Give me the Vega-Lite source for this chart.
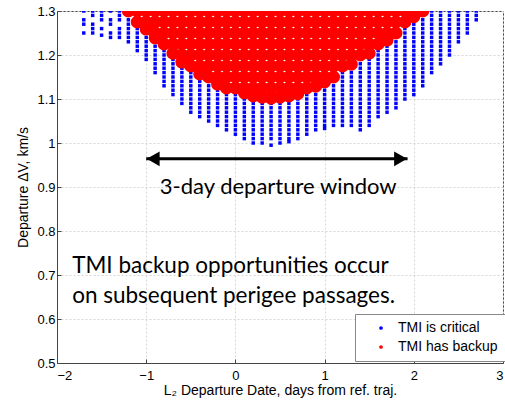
{
"$schema": "https://vega.github.io/schema/vega-lite/v6.json",
"autosize": {"type": "none"},
"padding": {"left": 57, "top": 11, "right": 2, "bottom": 39},
"width": 446,
"height": 352,
"background": "white",
"config": {
  "view": {"stroke": "#444", "strokeWidth": 1},
  "font": "Liberation Sans",
  "axis": {"labelFont": "Liberation Sans", "titleFont": "Liberation Sans", "labelColor": "#000", "titleColor": "#000", "labelFontSize": 13, "titleFontSize": 14, "titleFontWeight": "normal", "domainColor": "#444", "tickColor": "#444", "tickSize": -4, "gridColor": "#d6d6d6", "gridDash": [2, 2], "gridWidth": 1}
},
"datasets": {
"blue": [
{"x":-1.7,"y":1.30},{"x":-1.7,"y":1.28},{"x":-1.7,"y":1.27},{"x":-1.7,"y":1.25},
{"x":-1.6,"y":1.30},{"x":-1.6,"y":1.29},{"x":-1.6,"y":1.27},{"x":-1.6,"y":1.26},{"x":-1.6,"y":1.25},
{"x":-1.5,"y":1.30},{"x":-1.5,"y":1.29},{"x":-1.5,"y":1.28},{"x":-1.5,"y":1.26},{"x":-1.5,"y":1.245},
{"x":-1.4,"y":1.30},{"x":-1.4,"y":1.28},{"x":-1.4,"y":1.27},{"x":-1.4,"y":1.25},{"x":-1.4,"y":1.24},
{"x":-1.3,"y":1.30},{"x":-1.3,"y":1.29},{"x":-1.3,"y":1.28},{"x":-1.3,"y":1.26},{"x":-1.3,"y":1.25},{"x":-1.3,"y":1.24},
{"x":-1.2,"y":1.28},{"x":-1.2,"y":1.27},{"x":-1.2,"y":1.26},{"x":-1.2,"y":1.25},{"x":-1.2,"y":1.24},{"x":-1.2,"y":1.23},
{"x":-1.1,"y":1.26},{"x":-1.1,"y":1.25},{"x":-1.1,"y":1.24},{"x":-1.1,"y":1.23},{"x":-1.1,"y":1.22},{"x":-1.1,"y":1.21},
{"x":-1.0,"y":1.24},{"x":-1.0,"y":1.23},{"x":-1.0,"y":1.22},{"x":-1.0,"y":1.21},{"x":-1.0,"y":1.20},{"x":-1.0,"y":1.19},
{"x":-0.9,"y":1.22},{"x":-0.9,"y":1.21},{"x":-0.9,"y":1.20},{"x":-0.9,"y":1.19},{"x":-0.9,"y":1.18},{"x":-0.9,"y":1.17},{"x":-0.9,"y":1.16},
{"x":-0.8,"y":1.21},{"x":-0.8,"y":1.20},{"x":-0.8,"y":1.19},{"x":-0.8,"y":1.18},{"x":-0.8,"y":1.17},{"x":-0.8,"y":1.16},{"x":-0.8,"y":1.15},{"x":-0.8,"y":1.14},{"x":-0.8,"y":1.13},
{"x":-0.7,"y":1.19},{"x":-0.7,"y":1.18},{"x":-0.7,"y":1.17},{"x":-0.7,"y":1.16},{"x":-0.7,"y":1.15},{"x":-0.7,"y":1.14},{"x":-0.7,"y":1.13},{"x":-0.7,"y":1.12},{"x":-0.7,"y":1.11},
{"x":-0.6,"y":1.17},{"x":-0.6,"y":1.16},{"x":-0.6,"y":1.15},{"x":-0.6,"y":1.14},{"x":-0.6,"y":1.13},{"x":-0.6,"y":1.12},{"x":-0.6,"y":1.11},{"x":-0.6,"y":1.10},{"x":-0.6,"y":1.09},
{"x":-0.5,"y":1.16},{"x":-0.5,"y":1.15},{"x":-0.5,"y":1.14},{"x":-0.5,"y":1.13},{"x":-0.5,"y":1.12},{"x":-0.5,"y":1.11},{"x":-0.5,"y":1.10},{"x":-0.5,"y":1.09},{"x":-0.5,"y":1.08},{"x":-0.5,"y":1.07},
{"x":-0.4,"y":1.14},{"x":-0.4,"y":1.13},{"x":-0.4,"y":1.12},{"x":-0.4,"y":1.11},{"x":-0.4,"y":1.10},{"x":-0.4,"y":1.09},{"x":-0.4,"y":1.08},{"x":-0.4,"y":1.07},{"x":-0.4,"y":1.06},
{"x":-0.3,"y":1.13},{"x":-0.3,"y":1.12},{"x":-0.3,"y":1.11},{"x":-0.3,"y":1.10},{"x":-0.3,"y":1.09},{"x":-0.3,"y":1.08},{"x":-0.3,"y":1.07},{"x":-0.3,"y":1.06},{"x":-0.3,"y":1.05},
{"x":-0.2,"y":1.12},{"x":-0.2,"y":1.11},{"x":-0.2,"y":1.10},{"x":-0.2,"y":1.09},{"x":-0.2,"y":1.08},{"x":-0.2,"y":1.07},{"x":-0.2,"y":1.06},{"x":-0.2,"y":1.05},{"x":-0.2,"y":1.04},
{"x":-0.1,"y":1.11},{"x":-0.1,"y":1.10},{"x":-0.1,"y":1.09},{"x":-0.1,"y":1.08},{"x":-0.1,"y":1.07},{"x":-0.1,"y":1.06},{"x":-0.1,"y":1.05},{"x":-0.1,"y":1.04},{"x":-0.1,"y":1.03},
{"x":0.0,"y":1.11},{"x":0.0,"y":1.10},{"x":0.0,"y":1.09},{"x":0.0,"y":1.08},{"x":0.0,"y":1.07},{"x":0.0,"y":1.06},{"x":0.0,"y":1.05},{"x":0.0,"y":1.04},{"x":0.0,"y":1.03},{"x":0.0,"y":1.02},
{"x":0.1,"y":1.10},{"x":0.1,"y":1.09},{"x":0.1,"y":1.08},{"x":0.1,"y":1.07},{"x":0.1,"y":1.06},{"x":0.1,"y":1.05},{"x":0.1,"y":1.04},{"x":0.1,"y":1.03},{"x":0.1,"y":1.02},{"x":0.1,"y":1.01},
{"x":0.2,"y":1.09},{"x":0.2,"y":1.08},{"x":0.2,"y":1.07},{"x":0.2,"y":1.06},{"x":0.2,"y":1.05},{"x":0.2,"y":1.04},{"x":0.2,"y":1.03},{"x":0.2,"y":1.02},{"x":0.2,"y":1.01},{"x":0.2,"y":1.00},
{"x":0.3,"y":1.09},{"x":0.3,"y":1.08},{"x":0.3,"y":1.07},{"x":0.3,"y":1.06},{"x":0.3,"y":1.05},{"x":0.3,"y":1.04},{"x":0.3,"y":1.03},{"x":0.3,"y":1.02},{"x":0.3,"y":1.01},{"x":0.3,"y":1.00},
{"x":0.4,"y":1.09},{"x":0.4,"y":1.08},{"x":0.4,"y":1.07},{"x":0.4,"y":1.06},{"x":0.4,"y":1.05},{"x":0.4,"y":1.04},{"x":0.4,"y":1.03},{"x":0.4,"y":1.02},{"x":0.4,"y":1.01},{"x":0.4,"y":0.995},
{"x":0.5,"y":1.09},{"x":0.5,"y":1.08},{"x":0.5,"y":1.07},{"x":0.5,"y":1.06},{"x":0.5,"y":1.05},{"x":0.5,"y":1.04},{"x":0.5,"y":1.03},{"x":0.5,"y":1.02},{"x":0.5,"y":1.01},{"x":0.5,"y":1.00},
{"x":0.6,"y":1.09},{"x":0.6,"y":1.08},{"x":0.6,"y":1.07},{"x":0.6,"y":1.06},{"x":0.6,"y":1.05},{"x":0.6,"y":1.04},{"x":0.6,"y":1.03},{"x":0.6,"y":1.02},{"x":0.6,"y":1.01},{"x":0.6,"y":1.003},
{"x":0.7,"y":1.10},{"x":0.7,"y":1.09},{"x":0.7,"y":1.08},{"x":0.7,"y":1.07},{"x":0.7,"y":1.06},{"x":0.7,"y":1.05},{"x":0.7,"y":1.04},{"x":0.7,"y":1.03},{"x":0.7,"y":1.02},{"x":0.7,"y":1.01},
{"x":0.8,"y":1.11},{"x":0.8,"y":1.10},{"x":0.8,"y":1.09},{"x":0.8,"y":1.08},{"x":0.8,"y":1.07},{"x":0.8,"y":1.06},{"x":0.8,"y":1.05},{"x":0.8,"y":1.04},{"x":0.8,"y":1.03},{"x":0.8,"y":1.02},
{"x":0.9,"y":1.11},{"x":0.9,"y":1.10},{"x":0.9,"y":1.09},{"x":0.9,"y":1.08},{"x":0.9,"y":1.07},{"x":0.9,"y":1.06},{"x":0.9,"y":1.05},{"x":0.9,"y":1.04},{"x":0.9,"y":1.03},
{"x":1.0,"y":1.12},{"x":1.0,"y":1.11},{"x":1.0,"y":1.10},{"x":1.0,"y":1.09},{"x":1.0,"y":1.08},{"x":1.0,"y":1.07},{"x":1.0,"y":1.06},{"x":1.0,"y":1.05},{"x":1.0,"y":1.04},{"x":1.0,"y":1.033},
{"x":1.1,"y":1.13},{"x":1.1,"y":1.12},{"x":1.1,"y":1.11},{"x":1.1,"y":1.10},{"x":1.1,"y":1.09},{"x":1.1,"y":1.08},{"x":1.1,"y":1.07},{"x":1.1,"y":1.06},{"x":1.1,"y":1.05},{"x":1.1,"y":1.04},
{"x":1.2,"y":1.16},{"x":1.2,"y":1.15},{"x":1.2,"y":1.14},{"x":1.2,"y":1.13},{"x":1.2,"y":1.12},{"x":1.2,"y":1.11},{"x":1.2,"y":1.10},{"x":1.2,"y":1.09},{"x":1.2,"y":1.08},{"x":1.2,"y":1.07},{"x":1.2,"y":1.06},{"x":1.2,"y":1.05},{"x":1.2,"y":1.04},
{"x":1.3,"y":1.16},{"x":1.3,"y":1.15},{"x":1.3,"y":1.14},{"x":1.3,"y":1.13},{"x":1.3,"y":1.12},{"x":1.3,"y":1.11},{"x":1.3,"y":1.10},{"x":1.3,"y":1.09},{"x":1.3,"y":1.08},{"x":1.3,"y":1.07},{"x":1.3,"y":1.06},{"x":1.3,"y":1.05},{"x":1.3,"y":1.04},
{"x":1.4,"y":1.18},{"x":1.4,"y":1.17},{"x":1.4,"y":1.16},{"x":1.4,"y":1.15},{"x":1.4,"y":1.14},{"x":1.4,"y":1.13},{"x":1.4,"y":1.12},{"x":1.4,"y":1.11},{"x":1.4,"y":1.10},{"x":1.4,"y":1.09},{"x":1.4,"y":1.08},{"x":1.4,"y":1.07},{"x":1.4,"y":1.06},{"x":1.4,"y":1.05},{"x":1.4,"y":1.04},{"x":1.4,"y":1.03},
{"x":1.5,"y":1.19},{"x":1.5,"y":1.18},{"x":1.5,"y":1.17},{"x":1.5,"y":1.16},{"x":1.5,"y":1.15},{"x":1.5,"y":1.14},{"x":1.5,"y":1.13},{"x":1.5,"y":1.12},{"x":1.5,"y":1.11},{"x":1.5,"y":1.10},{"x":1.5,"y":1.09},{"x":1.5,"y":1.08},{"x":1.5,"y":1.07},{"x":1.5,"y":1.06},{"x":1.5,"y":1.05},{"x":1.5,"y":1.04},
{"x":1.6,"y":1.21},{"x":1.6,"y":1.20},{"x":1.6,"y":1.19},{"x":1.6,"y":1.18},{"x":1.6,"y":1.17},{"x":1.6,"y":1.16},{"x":1.6,"y":1.15},{"x":1.6,"y":1.14},{"x":1.6,"y":1.13},{"x":1.6,"y":1.12},{"x":1.6,"y":1.11},{"x":1.6,"y":1.10},{"x":1.6,"y":1.09},{"x":1.6,"y":1.08},{"x":1.6,"y":1.07},{"x":1.6,"y":1.06},
{"x":1.7,"y":1.22},{"x":1.7,"y":1.21},{"x":1.7,"y":1.20},{"x":1.7,"y":1.19},{"x":1.7,"y":1.18},{"x":1.7,"y":1.17},{"x":1.7,"y":1.16},{"x":1.7,"y":1.15},{"x":1.7,"y":1.14},{"x":1.7,"y":1.13},{"x":1.7,"y":1.12},{"x":1.7,"y":1.11},{"x":1.7,"y":1.10},{"x":1.7,"y":1.09},{"x":1.7,"y":1.08},{"x":1.7,"y":1.07},
{"x":1.8,"y":1.23},{"x":1.8,"y":1.22},{"x":1.8,"y":1.21},{"x":1.8,"y":1.20},{"x":1.8,"y":1.19},{"x":1.8,"y":1.18},{"x":1.8,"y":1.17},{"x":1.8,"y":1.16},{"x":1.8,"y":1.15},{"x":1.8,"y":1.14},{"x":1.8,"y":1.13},{"x":1.8,"y":1.12},{"x":1.8,"y":1.11},{"x":1.8,"y":1.10},{"x":1.8,"y":1.09},{"x":1.8,"y":1.08},
{"x":1.9,"y":1.26},{"x":1.9,"y":1.25},{"x":1.9,"y":1.24},{"x":1.9,"y":1.23},{"x":1.9,"y":1.22},{"x":1.9,"y":1.21},{"x":1.9,"y":1.20},{"x":1.9,"y":1.19},{"x":1.9,"y":1.18},{"x":1.9,"y":1.17},{"x":1.9,"y":1.16},{"x":1.9,"y":1.15},{"x":1.9,"y":1.14},{"x":1.9,"y":1.13},{"x":1.9,"y":1.12},{"x":1.9,"y":1.11},{"x":1.9,"y":1.10},
{"x":2.0,"y":1.27},{"x":2.0,"y":1.26},{"x":2.0,"y":1.25},{"x":2.0,"y":1.24},{"x":2.0,"y":1.23},{"x":2.0,"y":1.22},{"x":2.0,"y":1.21},{"x":2.0,"y":1.20},{"x":2.0,"y":1.19},{"x":2.0,"y":1.18},{"x":2.0,"y":1.17},{"x":2.0,"y":1.16},{"x":2.0,"y":1.15},{"x":2.0,"y":1.14},{"x":2.0,"y":1.13},{"x":2.0,"y":1.12},{"x":2.0,"y":1.11},
{"x":2.1,"y":1.28},{"x":2.1,"y":1.27},{"x":2.1,"y":1.26},{"x":2.1,"y":1.25},{"x":2.1,"y":1.24},{"x":2.1,"y":1.23},{"x":2.1,"y":1.22},{"x":2.1,"y":1.21},{"x":2.1,"y":1.20},{"x":2.1,"y":1.19},{"x":2.1,"y":1.18},{"x":2.1,"y":1.17},{"x":2.1,"y":1.16},{"x":2.1,"y":1.15},{"x":2.1,"y":1.14},{"x":2.1,"y":1.13},
{"x":2.2,"y":1.30},{"x":2.2,"y":1.29},{"x":2.2,"y":1.28},{"x":2.2,"y":1.27},{"x":2.2,"y":1.26},{"x":2.2,"y":1.25},{"x":2.2,"y":1.24},{"x":2.2,"y":1.23},{"x":2.2,"y":1.22},{"x":2.2,"y":1.21},{"x":2.2,"y":1.20},{"x":2.2,"y":1.19},{"x":2.2,"y":1.18},{"x":2.2,"y":1.17},{"x":2.2,"y":1.16},
{"x":2.3,"y":1.30},{"x":2.3,"y":1.29},{"x":2.3,"y":1.28},{"x":2.3,"y":1.27},{"x":2.3,"y":1.26},{"x":2.3,"y":1.25},{"x":2.3,"y":1.24},{"x":2.3,"y":1.23},{"x":2.3,"y":1.22},{"x":2.3,"y":1.21},{"x":2.3,"y":1.20},{"x":2.3,"y":1.19},{"x":2.3,"y":1.18},
{"x":2.4,"y":1.30},{"x":2.4,"y":1.29},{"x":2.4,"y":1.28},{"x":2.4,"y":1.27},{"x":2.4,"y":1.26},{"x":2.4,"y":1.25},{"x":2.4,"y":1.24},{"x":2.4,"y":1.23},{"x":2.4,"y":1.22},{"x":2.4,"y":1.21},{"x":2.4,"y":1.20},
{"x":2.5,"y":1.30},{"x":2.5,"y":1.29},{"x":2.5,"y":1.28},{"x":2.5,"y":1.27},{"x":2.5,"y":1.26},{"x":2.5,"y":1.25},{"x":2.5,"y":1.24},{"x":2.5,"y":1.23},
{"x":2.6,"y":1.30},{"x":2.6,"y":1.29},{"x":2.6,"y":1.28},{"x":2.6,"y":1.27},{"x":2.6,"y":1.26},{"x":2.6,"y":1.25},
{"x":2.7,"y":1.30},{"x":2.7,"y":1.29},{"x":2.7,"y":1.28}
],
"red": [
{"x":-1.2,"y":1.30},
{"x":-1.1,"y":1.30},{"x":-1.1,"y":1.275},
{"x":-1.0,"y":1.30},{"x":-1.0,"y":1.275},{"x":-1.0,"y":1.259},
{"x":-0.9,"y":1.30},{"x":-0.9,"y":1.275},{"x":-0.9,"y":1.25},{"x":-0.9,"y":1.239},
{"x":-0.8,"y":1.30},{"x":-0.8,"y":1.275},{"x":-0.8,"y":1.25},{"x":-0.8,"y":1.225},
{"x":-0.7,"y":1.30},{"x":-0.7,"y":1.275},{"x":-0.7,"y":1.25},{"x":-0.7,"y":1.225},{"x":-0.7,"y":1.204},
{"x":-0.6,"y":1.30},{"x":-0.6,"y":1.275},{"x":-0.6,"y":1.25},{"x":-0.6,"y":1.225},{"x":-0.6,"y":1.20},{"x":-0.6,"y":1.184},
{"x":-0.5,"y":1.30},{"x":-0.5,"y":1.275},{"x":-0.5,"y":1.25},{"x":-0.5,"y":1.225},{"x":-0.5,"y":1.20},{"x":-0.5,"y":1.175},
{"x":-0.4,"y":1.30},{"x":-0.4,"y":1.275},{"x":-0.4,"y":1.25},{"x":-0.4,"y":1.225},{"x":-0.4,"y":1.20},{"x":-0.4,"y":1.175},{"x":-0.4,"y":1.157},
{"x":-0.3,"y":1.30},{"x":-0.3,"y":1.275},{"x":-0.3,"y":1.25},{"x":-0.3,"y":1.225},{"x":-0.3,"y":1.20},{"x":-0.3,"y":1.175},{"x":-0.3,"y":1.15},
{"x":-0.2,"y":1.30},{"x":-0.2,"y":1.275},{"x":-0.2,"y":1.25},{"x":-0.2,"y":1.225},{"x":-0.2,"y":1.20},{"x":-0.2,"y":1.175},{"x":-0.2,"y":1.15},{"x":-0.2,"y":1.134},
{"x":-0.1,"y":1.30},{"x":-0.1,"y":1.275},{"x":-0.1,"y":1.25},{"x":-0.1,"y":1.225},{"x":-0.1,"y":1.20},{"x":-0.1,"y":1.175},{"x":-0.1,"y":1.15},{"x":-0.1,"y":1.125},
{"x":0.0,"y":1.30},{"x":0.0,"y":1.275},{"x":0.0,"y":1.25},{"x":0.0,"y":1.225},{"x":0.0,"y":1.20},{"x":0.0,"y":1.175},{"x":0.0,"y":1.15},{"x":0.0,"y":1.125},
{"x":0.1,"y":1.30},{"x":0.1,"y":1.275},{"x":0.1,"y":1.25},{"x":0.1,"y":1.225},{"x":0.1,"y":1.20},{"x":0.1,"y":1.175},{"x":0.1,"y":1.15},{"x":0.1,"y":1.125},{"x":0.1,"y":1.114},
{"x":0.2,"y":1.30},{"x":0.2,"y":1.275},{"x":0.2,"y":1.25},{"x":0.2,"y":1.225},{"x":0.2,"y":1.20},{"x":0.2,"y":1.175},{"x":0.2,"y":1.15},{"x":0.2,"y":1.125},{"x":0.2,"y":1.107},
{"x":0.3,"y":1.30},{"x":0.3,"y":1.275},{"x":0.3,"y":1.25},{"x":0.3,"y":1.225},{"x":0.3,"y":1.20},{"x":0.3,"y":1.175},{"x":0.3,"y":1.15},{"x":0.3,"y":1.125},{"x":0.3,"y":1.104},
{"x":0.4,"y":1.30},{"x":0.4,"y":1.275},{"x":0.4,"y":1.25},{"x":0.4,"y":1.225},{"x":0.4,"y":1.20},{"x":0.4,"y":1.175},{"x":0.4,"y":1.15},{"x":0.4,"y":1.125},{"x":0.4,"y":1.102},
{"x":0.5,"y":1.30},{"x":0.5,"y":1.275},{"x":0.5,"y":1.25},{"x":0.5,"y":1.225},{"x":0.5,"y":1.20},{"x":0.5,"y":1.175},{"x":0.5,"y":1.15},{"x":0.5,"y":1.125},{"x":0.5,"y":1.104},
{"x":0.6,"y":1.30},{"x":0.6,"y":1.275},{"x":0.6,"y":1.25},{"x":0.6,"y":1.225},{"x":0.6,"y":1.20},{"x":0.6,"y":1.175},{"x":0.6,"y":1.15},{"x":0.6,"y":1.125},{"x":0.6,"y":1.107},
{"x":0.7,"y":1.30},{"x":0.7,"y":1.275},{"x":0.7,"y":1.25},{"x":0.7,"y":1.225},{"x":0.7,"y":1.20},{"x":0.7,"y":1.175},{"x":0.7,"y":1.15},{"x":0.7,"y":1.125},{"x":0.7,"y":1.112},
{"x":0.8,"y":1.30},{"x":0.8,"y":1.275},{"x":0.8,"y":1.25},{"x":0.8,"y":1.225},{"x":0.8,"y":1.20},{"x":0.8,"y":1.175},{"x":0.8,"y":1.15},{"x":0.8,"y":1.125},
{"x":0.9,"y":1.30},{"x":0.9,"y":1.275},{"x":0.9,"y":1.25},{"x":0.9,"y":1.225},{"x":0.9,"y":1.20},{"x":0.9,"y":1.175},{"x":0.9,"y":1.15},{"x":0.9,"y":1.129},
{"x":1.0,"y":1.30},{"x":1.0,"y":1.275},{"x":1.0,"y":1.25},{"x":1.0,"y":1.225},{"x":1.0,"y":1.20},{"x":1.0,"y":1.175},{"x":1.0,"y":1.15},{"x":1.0,"y":1.139},
{"x":1.1,"y":1.30},{"x":1.1,"y":1.275},{"x":1.1,"y":1.25},{"x":1.1,"y":1.225},{"x":1.1,"y":1.20},{"x":1.1,"y":1.175},{"x":1.1,"y":1.15},
{"x":1.2,"y":1.30},{"x":1.2,"y":1.275},{"x":1.2,"y":1.25},{"x":1.2,"y":1.225},{"x":1.2,"y":1.20},{"x":1.2,"y":1.175},
{"x":1.3,"y":1.30},{"x":1.3,"y":1.275},{"x":1.3,"y":1.25},{"x":1.3,"y":1.225},{"x":1.3,"y":1.20},{"x":1.3,"y":1.179},
{"x":1.4,"y":1.30},{"x":1.4,"y":1.275},{"x":1.4,"y":1.25},{"x":1.4,"y":1.225},{"x":1.4,"y":1.20},
{"x":1.5,"y":1.30},{"x":1.5,"y":1.275},{"x":1.5,"y":1.25},{"x":1.5,"y":1.225},{"x":1.5,"y":1.204},
{"x":1.6,"y":1.30},{"x":1.6,"y":1.275},{"x":1.6,"y":1.25},{"x":1.6,"y":1.225},
{"x":1.7,"y":1.30},{"x":1.7,"y":1.275},{"x":1.7,"y":1.25},{"x":1.7,"y":1.234},
{"x":1.8,"y":1.30},{"x":1.8,"y":1.275},{"x":1.8,"y":1.25},
{"x":1.9,"y":1.30},{"x":1.9,"y":1.275},
{"x":2.0,"y":1.30},{"x":2.0,"y":1.287},
{"x":2.1,"y":1.30}
],
"arrow": [{"x":-1.0,"x2":1.93,"y":0.964}],
"headL": [{"x":-1.0,"y":0.964}],
"headR": [{"x":1.93,"y":0.964}],
"note1": [{"x":0.48,"y":0.884,"t":"3-day departure window"}],
"note2": [{"x":-1.83,"y":0.705,"t":"TMI backup opportunities occur"},{"x":-1.83,"y":0.636,"t":"on subsequent perigee passages."}]
},
"layer": [
{
 "data": {"name": "blue"},
 "mark": {"type": "point", "shape": "square", "filled": true, "size": 12, "opacity": 1, "clip": true},
 "encoding": {
  "x": {"field": "x", "type": "quantitative", "scale": {"domain": [-2, 3], "nice": false}, "axis": {"values": [-2,-1,0,1,2,3], "format": "~g", "title": "L₂ Departure Date, days from ref. traj.", "grid": true, "labelPadding": 10, "titlePadding": 1}},
  "y": {"field": "y", "type": "quantitative", "scale": {"domain": [0.5, 1.3], "nice": false, "zero": false}, "axis": {"values": [0.5,0.6,0.7,0.8,0.9,1,1.1,1.2,1.3], "format": "~g", "title": "Departure ΔV, km/s", "grid": true, "labelPadding": 6, "titlePadding": 6}},
  "color": {"datum": "TMI is critical", "type": "nominal", "scale": {"domain": ["TMI is critical", "TMI has backup"], "range": ["#0000ff", "#ff0000"]},
   "legend": {"title": null, "orient": "none", "legendX": 298, "legendY": 303, "fillColor": "white", "strokeColor": "#888", "padding": 7, "labelFont": "Liberation Sans", "labelFontSize": 14, "labelColor": "#000", "symbolType": "circle", "symbolSize": 14, "symbolOffset": 12, "labelOffset": 10, "rowPadding": 5}}
 }
},
{
 "data": {"name": "red"},
 "mark": {"type": "circle", "size": 170, "opacity": 1, "clip": true},
 "encoding": {
  "x": {"field": "x", "type": "quantitative"},
  "y": {"field": "y", "type": "quantitative"},
  "color": {"datum": "TMI has backup", "type": "nominal"}
 }
},
{
 "data": {"name": "arrow"},
 "mark": {"type": "rule", "color": "#000", "strokeWidth": 3},
 "encoding": {
  "x": {"field": "x", "type": "quantitative"},
  "x2": {"field": "x2"},
  "y": {"field": "y", "type": "quantitative"}
 }
},
{
 "data": {"name": "headL"},
 "mark": {"type": "point", "shape": "triangle-left", "filled": true, "color": "#000", "size": 220, "opacity": 1},
 "encoding": {
  "x": {"field": "x", "type": "quantitative"},
  "y": {"field": "y", "type": "quantitative"},
  "xOffset": {"value": 7}
 }
},
{
 "data": {"name": "headR"},
 "mark": {"type": "point", "shape": "triangle-right", "filled": true, "color": "#000", "size": 220, "opacity": 1},
 "encoding": {
  "x": {"field": "x", "type": "quantitative"},
  "y": {"field": "y", "type": "quantitative"},
  "xOffset": {"value": -7}
 }
},
{
 "data": {"name": "note1"},
 "mark": {"type": "text", "font": "Lato", "fontSize": 22, "align": "center", "baseline": "alphabetic", "color": "#000"},
 "encoding": {
  "x": {"field": "x", "type": "quantitative"},
  "y": {"field": "y", "type": "quantitative"},
  "text": {"field": "t"}
 }
},
{
 "data": {"name": "note2"},
 "mark": {"type": "text", "font": "Lato", "fontSize": 22.5, "align": "left", "baseline": "alphabetic", "color": "#000"},
 "encoding": {
  "x": {"field": "x", "type": "quantitative"},
  "y": {"field": "y", "type": "quantitative"},
  "text": {"field": "t"}
 }
}
]
}
